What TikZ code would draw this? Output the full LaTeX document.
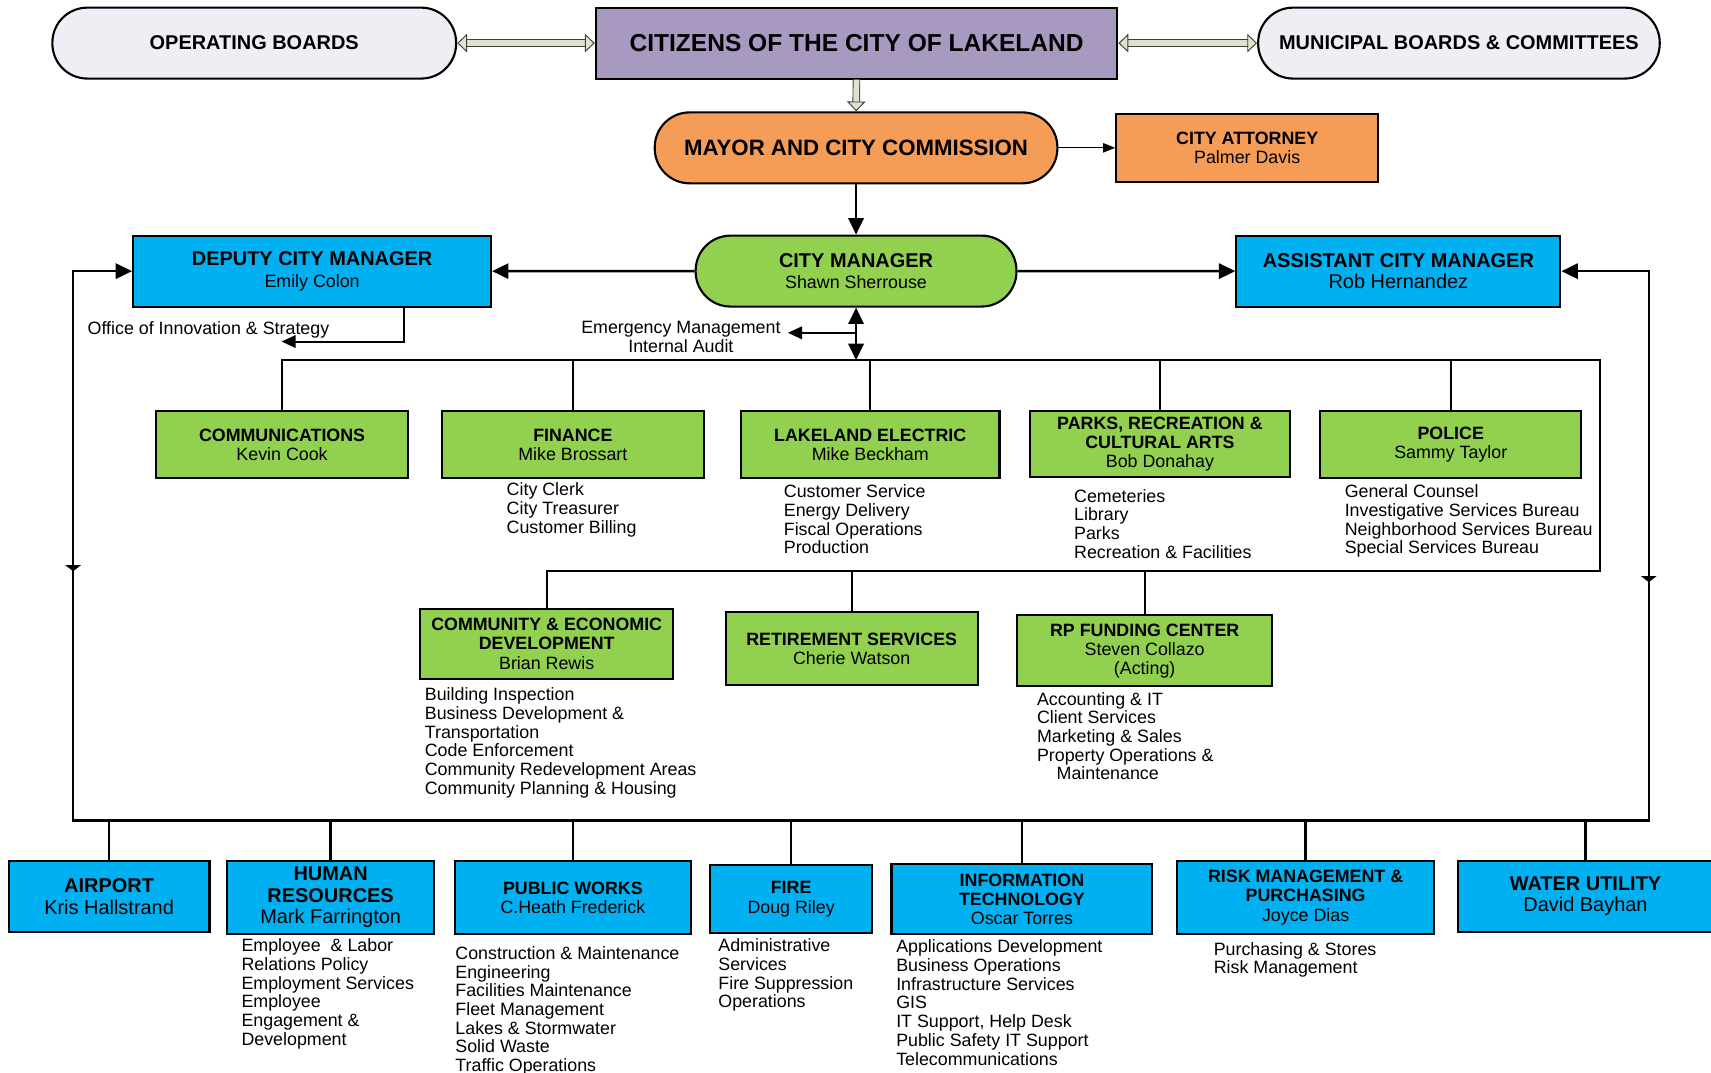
\documentclass[tikz,border=0pt]{standalone}
\usepackage{fontspec}
\setmainfont{Liberation Sans}
\usetikzlibrary{arrows.meta,positioning,calc,decorations.markings}

\definecolor{boardgray}{HTML}{EFEEF4}
\definecolor{citpurple}{HTML}{A899C1}
\definecolor{mayororange}{HTML}{F59D56}
\definecolor{mgrgreen}{HTML}{92D050}
\definecolor{mgrblue}{HTML}{00B0F0}
\definecolor{hollowfill}{HTML}{DDE3CC}
\definecolor{hollowline}{HTML}{404040}

\tikzset{
    bigtri/.tip={Triangle[length=3mm,width=2.8mm]},
    midtri/.tip={Triangle[length=2.6mm,width=2.3mm]},
    smalltri/.tip={Triangle[length=2.2mm,width=1.7mm]},
    flattri/.tip={Triangle[length=1.1mm,width=2.8mm]},
    hollowtip/.tip={Triangle[length=1.8mm,width=3.4mm,fill=hollowfill,line width=0.5pt]}
}

\begin{document}
\begin{tikzpicture}[x=0.2mm, y=-0.2mm,
    >=bigtri,
    bigfont/.style={font=\fontsize{10.4}{11.2}\selectfont},
    smallfont/.style={font=\fontsize{9.3}{10}\selectfont},
    board/.style={draw, line width=1.1pt, rounded corners=6.4mm, minimum height=13mm, inner sep=2pt, align=center},
    block/.style={rectangle, draw, line width=1.1pt, align=center, inner sep=2pt},
    sublist/.style={anchor=north west, align=left, inner sep=0pt, font=\fontsize{9.3}{9.75}\selectfont},
    link/.style={line width=1.2pt},
    hollow/.style={draw=hollowline, line width=0.5pt, double=hollowfill, double distance=1.05mm}]

    \useasboundingbox (0,0) rectangle (1568,983);

    % Citizens and boards
    \node [block, fill=citpurple, minimum width=95.6mm, minimum height=13mm, font=\fontsize{12.8}{14}\selectfont\bfseries] (citizens) at (785,39.5) {CITIZENS OF THE CITY OF LAKELAND};
    \node [board, fill=boardgray, minimum width=74mm, font=\fontsize{10.4}{12}\selectfont\bfseries] (opboards) at (233,39.5) {OPERATING BOARDS};
    \node [board, fill=boardgray, minimum width=73.6mm, font=\fontsize{10.4}{12}\selectfont\bfseries] (munboards) at (1337,39.5) {MUNICIPAL BOARDS \& COMMITTEES};

    % Commission, attorney and managers
    \node [board, fill=mayororange, minimum width=73.8mm, font=\fontsize{11.6}{13}\selectfont\bfseries] (mayor) at (784.5,135.5) {MAYOR AND CITY COMMISSION};
    \node [block, fill=mayororange, smallfont, minimum width=48mm, minimum height=12.4mm, right=10.4mm of mayor] (attorney) {\textbf{CITY ATTORNEY}\\Palmer Davis};
    \node [board, fill=mgrgreen, bigfont, minimum width=58.8mm, below=9.2mm of mayor] (citymgr) {\textbf{CITY MANAGER}\\{\fontsize{9.3}{10}\selectfont Shawn Sherrouse}};
    \node [block, fill=mgrblue, bigfont, minimum width=65.6mm, minimum height=13mm] (deputy) at (286,248.5) {\textbf{DEPUTY CITY MANAGER}\\{\fontsize{9.3}{10}\selectfont Emily Colon}};
    \node [block, fill=mgrblue, bigfont, minimum width=59.4mm, minimum height=13mm] (assistant) at (1281.5,248.5) {\textbf{ASSISTANT CITY MANAGER}\\Rob Hernandez};

    \node [sublist] (office) at (80,294) {Office of Innovation \& Strategy};
    \node [sublist, anchor=north, align=center] (emgtext) at (624,294) {Emergency Management\\Internal Audit};

    % First row of departments
    \node [block, fill=mgrgreen, smallfont, minimum width=46.2mm, minimum height=12.2mm] (comm) at (258.5,407.5) {\textbf{COMMUNICATIONS}\\Kevin Cook};
    \node [block, fill=mgrgreen, smallfont, minimum width=48mm, minimum height=12.2mm] (fin) at (525,407.5) {\textbf{FINANCE}\\Mike Brossart};
    \node [block, fill=mgrgreen, smallfont, minimum width=47.4mm, minimum height=12.2mm] (elec) at (797.5,407.5) {\textbf{LAKELAND ELECTRIC}\\Mike Beckham};
    \node [block, fill=mgrgreen, smallfont, minimum width=47.6mm, minimum height=12mm] (parks) at (1063,407) {\textbf{PARKS, RECREATION \&}\\\textbf{CULTURAL ARTS}\\Bob Donahay};
    \node [block, fill=mgrgreen, smallfont, minimum width=47.8mm, minimum height=12.2mm] (police) at (1329.5,407.5) {\textbf{POLICE}\\Sammy Taylor};

    \node [sublist] (finlist) at (464,442) {City Clerk\\City Treasurer\\Customer Billing};
    \node [sublist] (eleclist) at (718,444) {Customer Service\\Energy Delivery\\Fiscal Operations\\Production};
    \node [sublist] (parkslist) at (984,448) {Cemeteries\\Library\\Parks\\Recreation \& Facilities};
    \node [sublist] (policelist) at (1232,444) {General Counsel\\Investigative Services Bureau\\Neighborhood Services Bureau\\Special Services Bureau};

    % Second row of departments
    \node [block, fill=mgrgreen, smallfont, minimum width=46.4mm, minimum height=12.8mm] (ced) at (501,590) {\textbf{COMMUNITY \& ECONOMIC}\\\textbf{DEVELOPMENT}\\Brian Rewis};
    \node [block, fill=mgrgreen, smallfont, minimum width=46.2mm, minimum height=13.4mm] (retire) at (780.5,594.5) {\textbf{RETIREMENT SERVICES}\\Cherie Watson};
    \node [block, fill=mgrgreen, smallfont, minimum width=46.8mm, minimum height=13mm] (rpfc) at (1049,596.5) {\textbf{RP FUNDING CENTER}\\Steven Collazo\\(Acting)};

    \node [sublist] (cedlist) at (389,630) {Building Inspection\\Business Development \&\\Transportation\\Code Enforcement\\Community Redevelopment Areas\\Community Planning \& Housing};
    \node [sublist] (rpfclist) at (950,634) {Accounting \& IT\\Client Services\\Marketing \& Sales\\Property Operations \&\\\hspace*{1.1em}Maintenance};

    % Bottom row of departments
    \node [block, fill=mgrblue, bigfont, minimum width=36.8mm, minimum height=13mm] (airport) at (100,821.5) {\textbf{AIRPORT}\\Kris Hallstrand};
    \node [block, fill=mgrblue, bigfont, minimum width=38mm, minimum height=13.4mm] (hr) at (303,822.5) {\textbf{HUMAN}\\\textbf{RESOURCES}\\Mark Farrington};
    \node [block, fill=mgrblue, smallfont, minimum width=43.2mm, minimum height=13.4mm] (pubworks) at (525,822.5) {\textbf{PUBLIC WORKS}\\C.Heath Frederick};
    \node [block, fill=mgrblue, smallfont, minimum width=29.6mm, minimum height=12.4mm] (fire) at (725,824) {\textbf{FIRE}\\Doug Riley};
    \node [block, fill=mgrblue, smallfont, minimum width=47.8mm, minimum height=12.8mm] (infotech) at (936.5,824) {\textbf{INFORMATION}\\\textbf{TECHNOLOGY}\\Oscar Torres};
    \node [block, fill=mgrblue, smallfont, minimum width=47mm, minimum height=13.4mm] (risk) at (1196.5,822.5) {\textbf{RISK MANAGEMENT \&}\\\textbf{PURCHASING}\\Joyce Dias};
    \node [block, fill=mgrblue, bigfont, minimum width=46.8mm, minimum height=13mm] (water) at (1453,821.5) {\textbf{WATER UTILITY}\\David Bayhan};

    \node [sublist] (hrlist) at (221,860) {Employee~~\& Labor\\Relations Policy\\Employment Services\\Employee\\Engagement \&\\Development};
    \node [sublist] (pwlist) at (417,867) {Construction \& Maintenance\\Engineering\\Facilities Maintenance\\Fleet Management\\Lakes \& Stormwater\\Solid Waste\\Traffic Operations};
    \node [sublist] (firelist) at (658,860) {Administrative\\Services\\Fire Suppression\\Operations};
    \node [sublist] (itlist) at (821,861) {Applications Development\\Business Operations\\Infrastructure Services\\GIS\\IT Support, Help Desk\\Public Safety IT Support\\Telecommunications};
    \node [sublist] (risklist) at (1112,863) {Purchasing \& Stores\\Risk Management};

    % Bus corners
    \coordinate (busright) at (1466,330);
    \coordinate (buslow) at (1466,523);
    \coordinate (busleft) at (67,752);
    \coordinate (busend) at (1511,752);
    \coordinate (emg) at (722,305);
    \coordinate (officetip) at (258,313);

    % Connections - citizens and commission
    \draw [hollow, arrows={hollowtip-hollowtip}] (opboards) -- (citizens);
    \draw [hollow, arrows={hollowtip-hollowtip}] (citizens) -- (munboards);
    \draw [hollow, arrows={-hollowtip}] (citizens) -- (mayor);
    \draw [-smalltri, line width=0.6pt] (mayor) -- (attorney);
    \draw [link, ->] (mayor) -- (citymgr);
    \draw [link, ->] (citymgr) -- (deputy);
    \draw [link, ->] (citymgr) -- (assistant);
    \draw [-midtri, line width=1pt] ([xshift=16.8mm]deputy.south) |- (officetip);
    \draw [link, <->] (citymgr) -- (citymgr.south |- busright);
    \draw [-midtri, line width=0.9pt] (citymgr.south |- emg) -- (emg);

    % Connections - department rows
    \draw [link] (comm.north) |- (busright) -- (buslow) -| (ced.north);
    \foreach \dept in {fin,elec,parks,police}
        \draw [link] (\dept.north) -- (\dept.north |- busright);
    \foreach \dept in {retire,rpfc}
        \draw [link] (\dept.north) -- (\dept.north |- buslow);

    % Outer loop to deputy and assistant
    \draw [link, <->, postaction={decorate}, decoration={markings,
        mark=at position 65.8mm with {\arrow{flattri}},
        mark=at position 444mm with {\arrowreversed{flattri}}}]
        (deputy.west) -| (busleft) -- (busend) |- (assistant.east);
    \foreach \dept in {airport,hr,pubworks,fire,infotech,risk,water}
        \draw [link] (\dept.north) -- (\dept.north |- busleft);

\end{tikzpicture}
\end{document}
